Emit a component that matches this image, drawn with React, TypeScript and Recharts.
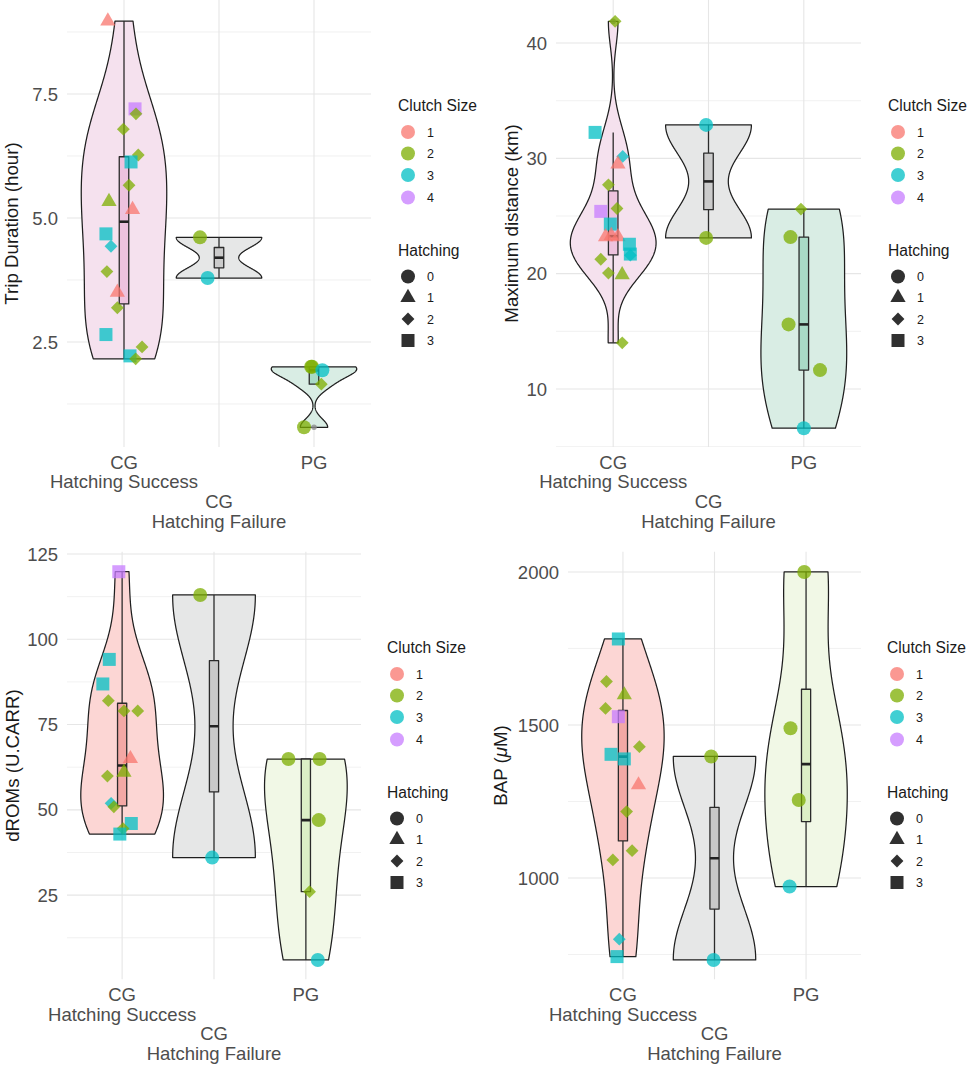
import React from "react";
import { ComposedChart, XAxis, YAxis, Scatter } from "recharts";

// ---------- data (value, clutch size, hatching, horizontal jitter in category units) ----------
type Row = [number, number, number, number];

const groupLabels: string[][] = [["CG", "Hatching Success"], ["CG", "Hatching Failure"], ["PG"]];
const clutchLevels = ["1", "2", "3", "4"];
const hatchingLevels = ["0", "1", "2", "3"];

const tripSuccess: Row[] = [
  [8.97, 1, 1, -0.17], [7.2, 4, 3, 0.116], [7.1, 2, 2, 0.126], [6.79, 2, 2, -0.007],
  [6.27, 2, 2, 0.15], [6.13, 3, 3, 0.074], [5.66, 2, 2, 0.053], [5.33, 2, 1, -0.158],
  [5.17, 1, 1, 0.09], [4.68, 3, 3, -0.19], [4.43, 3, 2, -0.137], [3.92, 2, 2, -0.18],
  [3.5, 1, 1, -0.07], [3.19, 2, 2, -0.07], [2.65, 3, 3, -0.19], [2.4, 2, 2, 0.19],
  [2.22, 3, 3, 0.063], [2.16, 2, 2, 0.123],
];
const tripFailure: Row[] = [[4.61, 2, 0, -0.2], [3.79, 3, 0, -0.12]];
const tripPG: Row[] = [[2.0, 2, 0, -0.03], [2.0, 2, 0, -0.02], [1.93, 3, 0, 0.088], [1.65, 2, 2, 0.077], [0.78, 2, 0, -0.105]];

const distSuccess: Row[] = [
  [41.88, 2, 2, 0.02], [32.25, 3, 3, -0.19], [30.17, 3, 2, 0.1], [29.5, 1, 1, 0.05],
  [27.7, 2, 2, -0.05], [25.65, 2, 2, 0.04], [25.4, 4, 3, -0.13], [24.3, 3, 3, -0.03],
  [23.2, 1, 1, -0.08], [23.2, 1, 1, 0.05], [23.3, 1, 1, -0.02], [22.55, 3, 3, 0.17],
  [21.7, 3, 3, 0.18], [21.6, 3, 2, 0.18], [21.25, 2, 2, -0.13], [20.05, 2, 2, -0.05],
  [19.9, 2, 1, 0.094], [14.0, 2, 2, 0.095],
];
const distFailure: Row[] = [[32.9, 3, 0, -0.025], [23.1, 2, 0, -0.025]];
const distPG: Row[] = [[25.6, 2, 2, -0.03], [23.17, 2, 0, -0.14], [15.6, 2, 0, -0.16], [11.64, 2, 0, 0.17], [6.6, 3, 0, 0.0]];

const dromsSuccess: Row[] = [
  [119.8, 4, 3, -0.036], [94.1, 3, 3, -0.14], [86.9, 3, 3, -0.21], [82.0, 2, 2, -0.15],
  [79.0, 2, 2, 0.02], [79.0, 2, 2, 0.17], [65.0, 1, 1, 0.09], [61.0, 2, 1, 0.02],
  [59.9, 2, 2, -0.16], [51.9, 3, 2, -0.12], [50.9, 2, 2, -0.09], [46.0, 3, 3, 0.1],
  [44.5, 2, 2, 0.01], [42.9, 3, 3, -0.025],
];
const dromsFailure: Row[] = [[113.0, 2, 0, -0.15], [36.0, 3, 0, -0.02]];
const dromsPG: Row[] = [[64.9, 2, 0, -0.19], [64.9, 2, 0, 0.15], [47.0, 2, 0, 0.14], [26.0, 2, 2, 0.04], [6.0, 3, 0, 0.13]];

const bapSuccess: Row[] = [
  [1781, 3, 3, -0.05], [1642, 2, 2, -0.18], [1598, 2, 1, 0.015], [1554, 2, 2, -0.19],
  [1527, 4, 3, -0.05], [1429, 2, 2, 0.18], [1404, 3, 3, -0.13], [1389, 3, 3, 0.015],
  [1304, 1, 1, 0.17], [1217, 2, 2, 0.04], [1089, 2, 2, 0.1], [1059, 2, 2, -0.11],
  [800, 3, 2, -0.04], [743, 3, 3, -0.065],
];
const bapFailure: Row[] = [[1397, 2, 0, -0.036], [732, 3, 0, -0.01]];
const bapPG: Row[] = [[2000, 2, 0, -0.02], [1489, 2, 0, -0.17], [1255, 2, 0, -0.08], [972, 3, 0, -0.18]];

const tripTicks = [2.5, 5, 7.5];
const tripMinor = [1.25, 3.75, 6.25, 8.75];
const distTicks = [10, 20, 30, 40];
const distMinor = [5, 15, 25, 35];
const dromsTicks = [25, 50, 75, 100, 125];
const dromsMinor = [12.5, 37.5, 62.5, 87.5, 112.5];
const bapTicks = [1000, 1500, 2000];
const bapMinor = [750, 1250, 1750];

// ---------- styles ----------
const FONT = "'Liberation Sans', Arial, Helvetica, sans-serif";
const CLUTCH_COLORS = ["#F8766D", "#7CAE00", "#00BFC4", "#C77CFF"];
const PT_ALPHA = 0.75;
const PAL_TOP = { violin: ["#f5e1ee", "#e6e7e7", "#d9ede4"], box: ["#edc2de", "#cbcbcb", "#a9dac6"] };
const PAL_BOTTOM = { violin: ["#fcd6d4", "#e6e7e7", "#f1f8e6"], box: ["#f3a8a5", "#c9c9c9", "#dcefc6"] };

// ---------- stats ----------
function quantile(s: number[], p: number) {
  const h = (s.length - 1) * p;
  const l = Math.floor(h);
  const u = Math.min(l + 1, s.length - 1);
  return s[l] + (h - l) * (s[u] - s[l]);
}
function bwNrd0(vals: number[]) {
  const s = [...vals].sort((a, b) => a - b);
  const n = s.length;
  const mean = s.reduce((a, b) => a + b, 0) / n;
  const sd = Math.sqrt(s.reduce((a, b) => a + (b - mean) ** 2, 0) / (n - 1));
  const iqr = quantile(s, 0.75) - quantile(s, 0.25);
  let lo = Math.min(sd, iqr / 1.34);
  if (!(lo > 0)) lo = sd || Math.abs(s[0]) || 1;
  return 0.9 * lo * Math.pow(n, -0.2);
}
function violinOutline(vals: number[], cat: number) {
  const bw = bwNrd0(vals);
  const lo = Math.min(...vals), hi = Math.max(...vals);
  const N = 200;
  const ys: number[] = [], ds: number[] = [];
  for (let i = 0; i <= N; i++) {
    const y = lo + ((hi - lo) * i) / N;
    let d = 0;
    for (const v of vals) d += Math.exp(-0.5 * ((y - v) / bw) ** 2);
    ys.push(y); ds.push(d);
  }
  const mx = Math.max(...ds);
  const left = ys.map((y, i) => ({ x: cat - (ds[i] / mx) * 0.45, y }));
  const right = ys.map((y, i) => ({ x: cat + (ds[i] / mx) * 0.45, y })).reverse();
  return [...left, ...right];
}
function boxStats(vals: number[]) {
  const s = [...vals].sort((a, b) => a - b);
  const q1 = quantile(s, 0.25), med = quantile(s, 0.5), q3 = quantile(s, 0.75);
  const iqr = q3 - q1;
  const lo = q1 - 1.5 * iqr, hi = q3 + 1.5 * iqr;
  const inside = s.filter((v) => v >= lo && v <= hi);
  return { q1, med, q3, wlo: Math.min(...inside), whi: Math.max(...inside), out: s.filter((v) => v < lo || v > hi) };
}

// ---------- drawing helpers ----------
function PolyPath(props: any) {
  const pts = props.points || [];
  if (!pts.length) return null;
  const d = pts.map((p: any, i: number) => `${i ? "L" : "M"}${p.x},${p.y}`).join("") + (props.closed ? "Z" : "");
  return (
    <path d={d} fill={props.closed ? props.c : "none"} stroke={props.s} strokeWidth={props.sw}
      strokeLinejoin="round" strokeLinecap="butt" />
  );
}
function Segments(props: any) {
  const pts = props.points || [];
  let d = "";
  for (let i = 0; i + 1 < pts.length; i += 2) d += `M${pts[i].x},${pts[i].y}L${pts[i + 1].x},${pts[i + 1].y}`;
  return <path d={d} fill="none" stroke={props.s} strokeWidth={props.sw} />;
}
const noShape = () => <g />;

function Marker({ cx, cy, color, hatch, opacity }: any) {
  const common = { fill: color, fillOpacity: opacity };
  if (hatch === 0) return <circle cx={cx} cy={cy} r={7} {...common} />;
  if (hatch === 1) {
    const r = 8.8;
    return <polygon points={`${cx},${cy - r} ${cx + r * 0.866},${cy + r / 2} ${cx - r * 0.866},${cy + r / 2}`} {...common} />;
  }
  if (hatch === 2) {
    const d = 6.4;
    return <polygon points={`${cx},${cy - d} ${cx + d},${cy} ${cx},${cy + d} ${cx - d},${cy}`} {...common} />;
  }
  const h = 6.5;
  return <rect x={cx - h} y={cy - h} width={2 * h} height={2 * h} {...common} />;
}

const ROW_BASE = [21.6, 41.4, 61, 80.6];
function GroupTick(props: any) {
  const { x, y, payload } = props;
  const idx = Math.round(payload.value);
  const lines = groupLabels[idx] || [];
  const start = idx === 1 ? 2 : 0;
  return (
    <g>
      {lines.map((t, i) => (
        <text key={i} x={x} y={y + ROW_BASE[start + i]} textAnchor="middle" fill="#4d4d4d" fontSize={18.5} fontFamily={FONT}>
          {t}
        </text>
      ))}
    </g>
  );
}

// ---------- panels ----------
type PanelCfg = {
  left: number; top: number; width: number; height: number;
  plotLeft: number; plotRight: number; plotTop: number; plotBottom: number;
  domain: [number, number]; ticks: number[]; minor: number[]; fmt: (v: number) => string;
  title: React.ReactNode; titleX: number; legendX: number;
  groups: Row[][]; pal: { violin: string[]; box: string[] };
};

const panels: PanelCfg[] = [
  {
    left: 0, top: 0, width: 480, height: 540, plotLeft: 67, plotRight: 371, plotTop: 0, plotBottom: 447,
    domain: [0.383, 9.395], ticks: tripTicks, minor: tripMinor, fmt: (v) => v.toFixed(1),
    title: "Trip Duration (hour)", titleX: 11, legendX: 398, groups: [tripSuccess, tripFailure, tripPG], pal: PAL_TOP,
  },
  {
    left: 480, top: 0, width: 489, height: 540, plotLeft: 76, plotRight: 381, plotTop: 0, plotBottom: 447,
    domain: [4.97, 43.73], ticks: distTicks, minor: distMinor, fmt: (v) => String(v),
    title: "Maximum distance (km)", titleX: 31, legendX: 408, groups: [distSuccess, distFailure, distPG], pal: PAL_TOP,
  },
  {
    left: 0, top: 540, width: 480, height: 546, plotLeft: 67, plotRight: 361, plotTop: 11.6, plotBottom: 439.4,
    domain: [0.3, 125.7], ticks: dromsTicks, minor: dromsMinor, fmt: (v) => String(v),
    title: "dROMs (U.CARR)", titleX: 12, legendX: 387, groups: [dromsSuccess, dromsFailure, dromsPG], pal: PAL_BOTTOM,
  },
  {
    left: 480, top: 540, width: 489, height: 546, plotLeft: 88, plotRight: 381, plotTop: 11.6, plotBottom: 439.4,
    domain: [668.5, 2066.5], ticks: bapTicks, minor: bapMinor, fmt: (v) => String(v),
    title: (<>BAP (<tspan fontStyle="italic">μ</tspan>M)</>), titleX: 20, legendX: 407,
    groups: [bapSuccess, bapFailure, bapPG], pal: PAL_BOTTOM,
  },
];

function Panel({ cfg }: { cfg: PanelCfg }) {
  const { width, height, plotLeft, plotRight, plotTop, plotBottom, domain, ticks, minor, fmt, groups, pal } = cfg;
  const gridMajor = ticks.flatMap((v) => [{ x: -0.6, y: v }, { x: 2.6, y: v }]);
  const gridMinor = minor.flatMap((v) => [{ x: -0.6, y: v }, { x: 2.6, y: v }]);
  const gridV = [0, 1, 2].flatMap((c) => [{ x: c, y: domain[0] }, { x: c, y: domain[1] }]);
  const stats = groups.map((g) => boxStats(g.map((r) => r[0])));

  return (
    <ComposedChart width={width} height={height}
      margin={{ top: plotTop, right: width - plotRight, bottom: 0, left: 0 }}>
      <XAxis type="number" dataKey="x" domain={[-0.6, 2.6]} ticks={[0, 1, 2]} interval={0}
        axisLine={false} tickLine={false} tickSize={0} tickMargin={0} height={height - plotBottom}
        tick={<GroupTick />} allowDataOverflow />
      <YAxis type="number" dataKey="y" domain={domain} ticks={ticks} interval={0}
        axisLine={false} tickLine={false} tickSize={0} tickMargin={9} width={plotLeft}
        tick={{ fill: "#4d4d4d", fontSize: 18.5, fontFamily: FONT }} tickFormatter={fmt} allowDataOverflow />

      <Scatter data={gridMinor} line={<Segments s="#efefef" sw={0.9} />} shape={noShape} isAnimationActive={false} />
      <Scatter data={gridMajor} line={<Segments s="#e6e6e6" sw={1.1} />} shape={noShape} isAnimationActive={false} />
      <Scatter data={gridV} line={<Segments s="#e6e6e6" sw={1.1} />} shape={noShape} isAnimationActive={false} />

      {groups.map((g, i) => (
        <Scatter key={`v${i}`} data={violinOutline(g.map((r) => r[0]), i)}
          line={<PolyPath closed c={pal.violin[i]} s="#1f1f1f" sw={1.25} />} shape={noShape} isAnimationActive={false} />
      ))}

      {stats.map((s, i) => (
        <Scatter key={`wl${i}`} data={[{ x: i, y: s.wlo }, { x: i, y: s.q1 }]}
          line={<PolyPath s="#2b2b2b" sw={1.3} />} shape={noShape} isAnimationActive={false} />
      ))}
      {stats.map((s, i) => (
        <Scatter key={`wh${i}`} data={[{ x: i, y: s.q3 }, { x: i, y: s.whi }]}
          line={<PolyPath s="#2b2b2b" sw={1.3} />} shape={noShape} isAnimationActive={false} />
      ))}
      {stats.map((s, i) => (
        <Scatter key={`b${i}`}
          data={[{ x: i - 0.05, y: s.q1 }, { x: i + 0.05, y: s.q1 }, { x: i + 0.05, y: s.q3 }, { x: i - 0.05, y: s.q3 }]}
          line={<PolyPath closed c={pal.box[i]} s="#2b2b2b" sw={1.3} />} shape={noShape} isAnimationActive={false} />
      ))}
      {stats.map((s, i) => (
        <Scatter key={`m${i}`} data={[{ x: i - 0.05, y: s.med }, { x: i + 0.05, y: s.med }]}
          line={<PolyPath s="#222" sw={2.6} />} shape={noShape} isAnimationActive={false} />
      ))}
      {stats.map((s, i) => (
        <Scatter key={`o${i}`} data={s.out.map((v) => ({ x: i, y: v }))}
          shape={(p: any) => <circle cx={p.cx} cy={p.cy} r={2.8} fill="#8c8c8c" fillOpacity={0.8} />}
          isAnimationActive={false} />
      ))}

      {groups.map((g, i) => (
        <Scatter key={`p${i}`}
          data={g.map((r) => ({ x: i + r[3], y: r[0], clutch: r[1], hatch: r[2] }))}
          shape={(p: any) => {
            const d = p.payload || p;
            return <Marker cx={p.cx} cy={p.cy} color={CLUTCH_COLORS[d.clutch - 1]} hatch={d.hatch} opacity={PT_ALPHA} />;
          }}
          isAnimationActive={false} />
      ))}
    </ComposedChart>
  );
}

const LEG_CLUTCH_Y = [-91.5, -70, -48.5, -26];
const LEG_HATCH_Y = [53, 74, 95.5, 117];

function Overlay({ cfg }: { cfg: PanelCfg }) {
  const cy = (cfg.plotTop + cfg.plotBottom) / 2;
  const lx = cfg.legendX;
  return (
    <svg width={cfg.width} height={cfg.height} style={{ position: "absolute", left: 0, top: 0, pointerEvents: "none" }}>
      <text x={cfg.titleX} y={cy} transform={`rotate(-90 ${cfg.titleX} ${cy})`} textAnchor="middle"
        dominantBaseline="central" fontSize={18.7} fontFamily={FONT} fill="#1a1a1a">{cfg.title}</text>
      <text x={lx} y={cy - 118 + 5.5} fontSize={15.6} fontFamily={FONT} fill="#1a1a1a">Clutch Size</text>
      {clutchLevels.map((l, i) => (
        <g key={`c${l}`}>
          <circle cx={lx + 10} cy={cy + LEG_CLUTCH_Y[i]} r={7} fill={CLUTCH_COLORS[i]} fillOpacity={PT_ALPHA} />
          <text x={lx + 29} y={cy + LEG_CLUTCH_Y[i] + 4.5} fontSize={12.5} fontFamily={FONT} fill="#1a1a1a">{l}</text>
        </g>
      ))}
      <text x={lx} y={cy + 26.5 + 5.5} fontSize={15.6} fontFamily={FONT} fill="#1a1a1a">Hatching</text>
      {hatchingLevels.map((l, i) => (
        <g key={`h${l}`}>
          <Marker cx={lx + 10} cy={cy + LEG_HATCH_Y[i]} color="#1a1a1a" hatch={i} opacity={0.9} />
          <text x={lx + 29} y={cy + LEG_HATCH_Y[i] + 4.5} fontSize={12.5} fontFamily={FONT} fill="#1a1a1a">{l}</text>
        </g>
      ))}
    </svg>
  );
}

export default function App() {
  return (
    <div style={{ position: "absolute", left: 0, top: 0, width: 969, height: 1086, background: "#ffffff", overflow: "hidden" }}>
      {panels.map((cfg, i) => (
        <div key={i} style={{ position: "absolute", left: cfg.left, top: cfg.top, width: cfg.width, height: cfg.height }}>
          <Panel cfg={cfg} />
          <Overlay cfg={cfg} />
        </div>
      ))}
    </div>
  );
}
